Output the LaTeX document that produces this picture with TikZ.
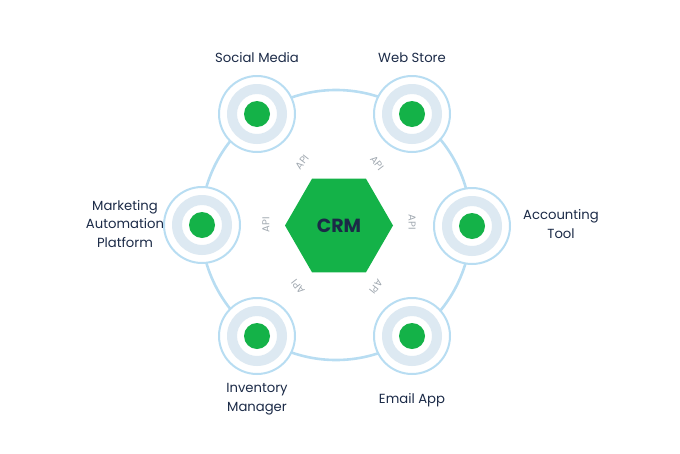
\documentclass[tikz,border=0pt]{standalone}
\usepackage{fontspec}
\setmainfont{Poppins}
\usetikzlibrary{shapes.geometric}
\definecolor{crmgreen}{HTML}{14B248}
\definecolor{ringblue}{HTML}{B8DDF2}
\definecolor{ringfill}{HTML}{DDE9F2}
\definecolor{navy}{HTML}{1B2A47}
\definecolor{apigray}{HTML}{A0A8B0}
\tikzset{
  hubouter/.style={circle, draw=ringblue, line width=2pt, fill=white, minimum size=76pt, inner sep=0pt},
  lbl/.style={text=navy, font=\fontsize{13.2}{18.5}\selectfont, align=center},
  apilbl/.style={text=apigray, font=\fontsize{10}{11}\selectfont, inner sep=0pt},
  bigring/.style={draw=ringblue, line width=2.6pt},
  hexnode/.style={regular polygon, regular polygon sides=6, minimum size=108pt, inner sep=0pt, fill=crmgreen, text=navy, font=\fontsize{19}{22}\selectfont\bfseries}
}
\newcommand{\hubnode}[2]{%
  \node[hubouter] (#1) at (#2) {};
  \fill[ringfill, even odd rule] (#1.center) circle (30pt) circle (20pt);
  \fill[crmgreen] (#1.center) circle (13pt);
}
\begin{document}
\begin{tikzpicture}[x=1pt,y=-1pt]
\useasboundingbox (0,0) rectangle (680,453);
\coordinate (c) at (336,225);
\draw[bigring] (c) circle (135pt);
\hubnode{sm}{257,114}
\hubnode{ws}{412,114}
\hubnode{acc}{472,226}
\hubnode{mkt}{202,225}
\hubnode{inv}{257,336}
\hubnode{em}{412,336}
\node[hexnode] (crm) at (339,225.5) {CRM};
\node[lbl, anchor=south] at (257,66) {Social Media};
\node[lbl, anchor=south] at (412,66) {Web Store};
\node[lbl] at (125,224) {Marketing\\Automation\\Platform};
\node[lbl] at (561,224) {Accounting\\Tool};
\node[lbl] at (257,399) {Inventory\\Manager};
\node[lbl] at (412,400) {Email App};
\node[apilbl, rotate=52] at (302,162) {API};
\node[apilbl, rotate=-52] at (377,163) {API};
\node[apilbl, rotate=-90] at (412,222) {API};
\node[apilbl, rotate=90] at (266,225) {API};
\node[apilbl, rotate=232] at (376,287) {API};
\node[apilbl, rotate=128] at (298,287) {API};
\end{tikzpicture}
\end{document}
